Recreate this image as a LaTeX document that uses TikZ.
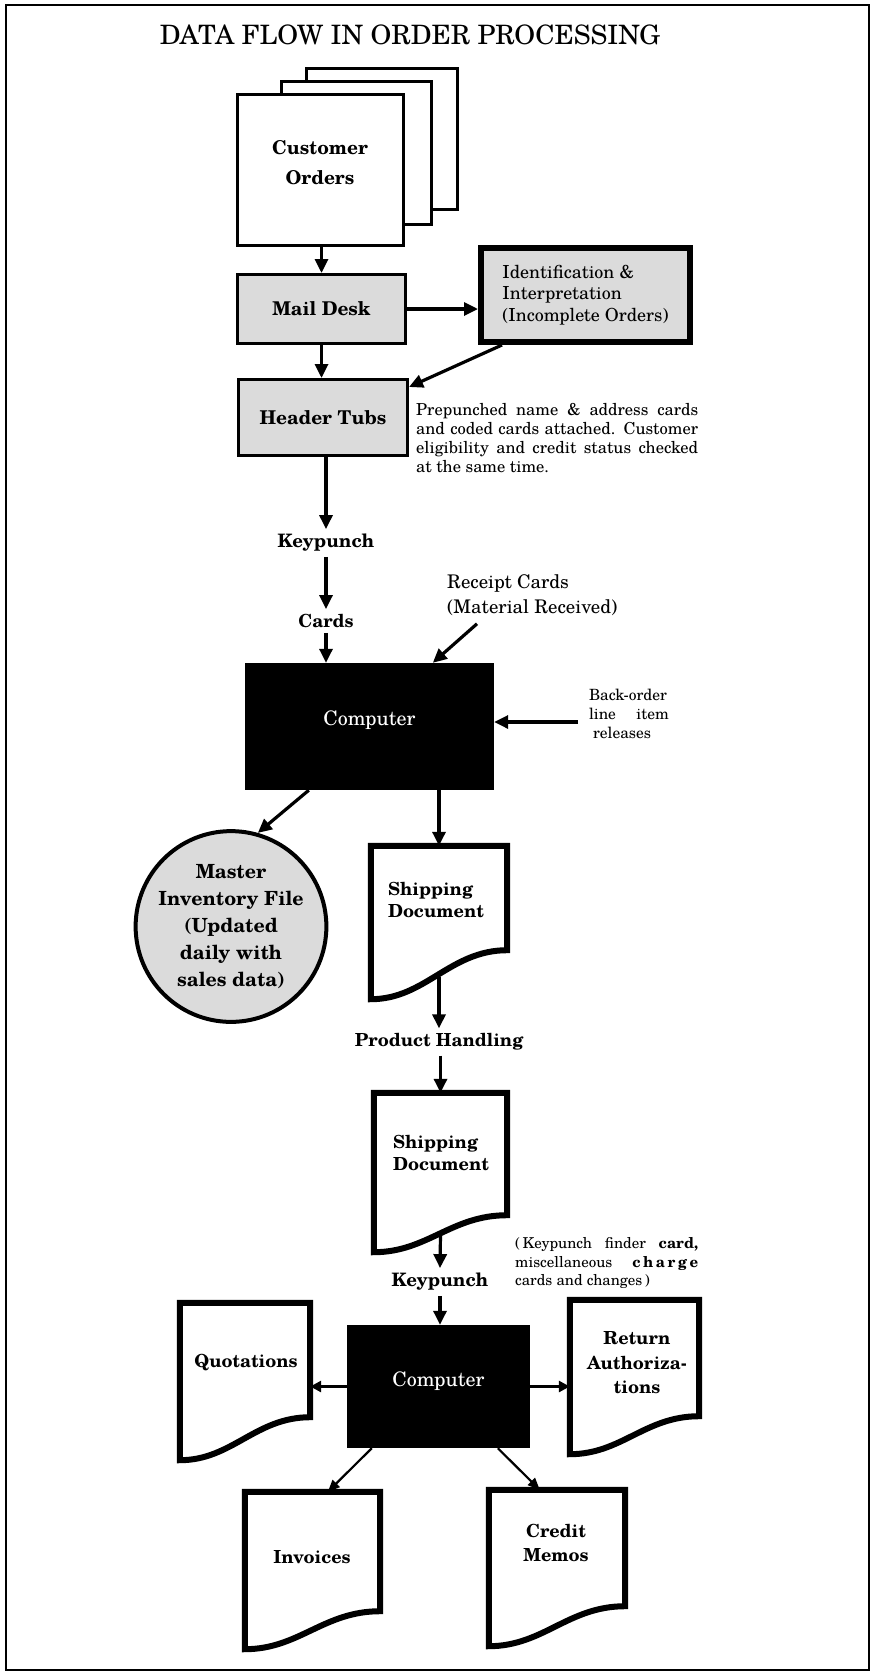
\documentclass[tikz,border=0pt]{standalone}
\usepackage{fontspec}
\setmainfont{TeX Gyre Schola}
\usetikzlibrary{arrows.meta,calc}
\newcommand{\setfs}[2]{\fontsize{#1}{#2}\selectfont}
\newcommand{\docout}[2]{\draw[docline] (#1.north west) -- (#1.north east) -- ([yshift=#2pt]#1.south east) .. controls ($(#1.south east)!0.42!(#1.south west)+(0,-#2)$) and ($(#1.south east)!0.6!(#1.south west)$) .. (#1.south west) -- cycle;}
\begin{document}
\begin{tikzpicture}[x=1pt,y=-1pt,
  flow/.style={line width=3.2pt,-{Triangle[length=14pt,width=13pt]}},
  sideflow/.style={line width=3pt,-{Triangle[length=11pt,width=11pt]}},
  thinflow/.style={line width=2.2pt,-{Triangle[length=12pt,width=10pt]}},
  sheet/.style={draw,line width=2.6pt,fill=white,inner sep=0pt},
  shadebox/.style={draw,line width=3pt,fill=black!14,inner sep=0pt},
  docnode/.style={inner sep=0pt,draw=none},
  docline/.style={line width=6pt,fill=white,line join=miter},
  lbl/.style={font=\bfseries\setfs{18}{21.5},align=center,inner sep=5pt},
  compbox/.style={fill=black,inner sep=0pt,text=white,font=\setfs{20}{24}}
]
\useasboundingbox (0,0) rectangle (872,1673);
\node[draw,line width=2pt,minimum width=863pt,minimum height=1665pt,inner sep=0pt] (frame) at (437.5,837.5) {};

\node[font=\setfs{26.7}{30},inner sep=0pt] (title) at (410,35) {DATA FLOW IN ORDER PROCESSING};

% customer orders stack
\node[sheet,minimum width=151.5pt,minimum height=141.5pt] (back) at (382,139) {};
\node[sheet,minimum width=150.5pt,minimum height=143.5pt] (mid) at (356.5,153) {};
\node[sheet,minimum width=166.5pt,minimum height=151.5pt] (orders) at (320.5,170) {};
\node[lbl,font=\bfseries\setfs{19}{30}] (orderst) at (320,163) {Customer\\Orders};

\node[shadebox,minimum width=168pt,minimum height=69pt,font=\bfseries\setfs{19}{22}] (mail) at (321.5,309) {Mail Desk};
\node[draw,line width=6pt,fill=black!14,minimum width=209pt,minimum height=94pt,inner sep=0pt,align=left,font=\setfs{18}{21.5}] (ident) at (585.5,295) {Identification \&\\Interpretation\\(Incomplete Orders)};
\node[shadebox,minimum width=169pt,minimum height=76pt,font=\bfseries\setfs{19}{22}] (header) at (323,417.5) {Header Tubs};

\node[anchor=west,align=left,inner sep=0pt,font=\setfs{16.5}{19}] (note1) at (416,438) {\makebox[282pt][s]{Prepunched name \& address cards}\\\makebox[282pt][s]{and coded cards attached. Customer}\\\makebox[282pt][s]{eligibility and credit status checked}\\at the same time.};

\node[lbl,font=\bfseries\setfs{18.5}{22}] (kp1) at (326,543) {Keypunch};
\node[lbl] (cards) at (326,621) {Cards};

\draw[flow] (mail.north |- orders.south) -- (mail.north);
\draw[flow] (mail.east) -- (mail.east -| ident.west);
\draw[flow] (mail.south) -- (mail.south |- header.north);
\draw[flow] ([xshift=24pt]ident.south west) -- ([yshift=-9pt]header.north east);
\draw[flow] (kp1.north |- header.south) -- (kp1.north);
\draw[flow] (kp1.south) -- (cards.north);

% first computer
\node[compbox,minimum width=249pt,minimum height=127pt] (comp1) at (369.5,726.5) {\raisebox{1pt}[0pt][0pt]{Computer}};
\draw[flow] (cards.south) -- (cards.south |- comp1.north);

\node[anchor=west,align=left,inner sep=0pt,font=\setfs{18.8}{25}] (receipt) at (447,595) {Receipt Cards\\(Material Received)};
\draw[flow] ([xshift=30pt,yshift=-8pt]receipt.south west) -- ([xshift=188pt]comp1.north west);

\node[align=left,inner sep=0pt,font=\setfs{15.5}{19}] (bo) at (629,714) {Back-order\\\makebox[80pt][s]{line item}\\\hspace*{4pt}releases};
\coordinate (bos) at (578,722);
\draw[flow] (bos) -- (bos -| comp1.east);

\node[circle,draw,line width=4pt,fill=black!14,minimum size=166pt,inner sep=0pt,align=center,font=\bfseries\setfs{19.5}{27}] (mif) at (231,926.5) {Master\\Inventory File\\(Updated\\daily with\\sales data)};
\draw[flow] ([xshift=64pt]comp1.south west) -- (mif.74);

\node[docnode,minimum width=136pt,minimum height=153pt] (ship1) at (439,922.5) {};
\docout{ship1}{49}
\node[lbl,align=left] (ship1t) at (436,900) {Shipping\\Document};
\draw[flow] (comp1.south -| ship1.north) -- (ship1.north);

\node[lbl] (ph) at (439,1042) {Product Handling};
\draw[flow] ([yshift=22pt]ship1.south) -- (ph.north);

\node[docnode,minimum width=133pt,minimum height=159pt] (ship2) at (440.5,1172.5) {};
\docout{ship2}{37}
\node[lbl,align=left] (ship2t) at (441,1153) {Shipping\\Document};
\draw[flow] (ph.south -| ship2.north) -- (ship2.north);

\node[lbl,font=\bfseries\setfs{18.5}{22}] (kp2) at (440,1282) {Keypunch};
\draw[flow] ([yshift=18pt]ship2.south) -- (kp2.north);

\node[anchor=west,align=left,inner sep=0pt,font=\setfs{15}{18.5}] (kpnote) at (515,1263) {\makebox[183pt][s]{(\,Keypunch finder \textbf{card,}}\\\makebox[183pt][s]{miscellaneous \textbf{c\hspace{2.5pt}h\hspace{2.5pt}a\hspace{2.5pt}r\hspace{2.5pt}g\hspace{2.5pt}e}}\\cards and changes\,)};

% second computer
\node[compbox,minimum width=183pt,minimum height=123pt] (comp2) at (438.5,1386.5) {\raisebox{0pt}[0pt][0pt]{Computer}};
\draw[flow] (kp2.south) -- (kp2.south |- comp2.north);

\node[docnode,minimum width=130pt,minimum height=157pt] (quot) at (245,1381.5) {};
\docout{quot}{43}
\node[lbl] (quott) at (246,1363) {Quotations};

\node[docnode,minimum width=129pt,minimum height=154pt] (ret) at (634.5,1377) {};
\docout{ret}{38}
\node[lbl,font=\bfseries\setfs{18}{24.5}] (rett) at (637,1363) {Return\\Authoriza-\\tions};

\node[docnode,minimum width=135pt,minimum height=157pt] (inv) at (312.5,1570.5) {};
\docout{inv}{38}
\node[lbl] (invt) at (312,1557) {Invoices};

\node[docnode,minimum width=136pt,minimum height=156pt] (cred) at (557,1568) {};
\docout{cred}{40}
\node[lbl,font=\bfseries\setfs{18}{24}] (credt) at (556,1543) {Credit\\Memos};

\draw[sideflow] (comp2.west) -- (comp2.west -| quot.east);
\draw[sideflow] (comp2.east) -- (comp2.east -| ret.west);
\draw[thinflow] ([xshift=25pt]comp2.south west) -- ([xshift=83pt]inv.north west);
\draw[thinflow] ([xshift=151pt]comp2.south west) -- ([xshift=51pt]cred.north west);
\end{tikzpicture}
\end{document}
